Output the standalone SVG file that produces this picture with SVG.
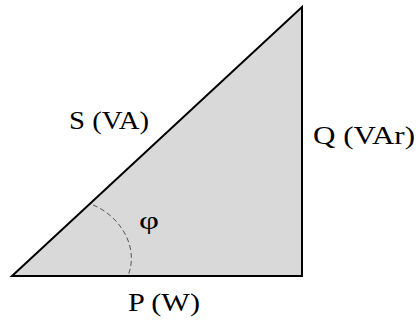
<svg xmlns="http://www.w3.org/2000/svg" width="419" height="320" viewBox="0 0 419 320">
<style>
.lbl{font-family:"Liberation Serif","Times New Roman",serif;font-size:25px;fill:#000}
</style>
<rect width="419" height="320" fill="#fff"/>
<g id="triangle">
<polygon points="12,276 302,7 302,276" fill="#d9d9d9" stroke="#000" stroke-width="2" stroke-linejoin="miter"/>
</g>
<g id="connectors">
<path d="M93,205 C118,215 140,245 128,276" fill="none" stroke="#555" stroke-width="1" stroke-dasharray="5,3"/>
</g>
<g id="labels">
<text class="lbl" x="69" y="129" textLength="80" lengthAdjust="spacingAndGlyphs">S (VA)</text>
<text class="lbl" x="313" y="144" textLength="102" lengthAdjust="spacingAndGlyphs">Q (VAr)</text>
<text class="lbl" x="128" y="311" textLength="72" lengthAdjust="spacingAndGlyphs">P (W)</text>
<text class="lbl" x="139" y="229" font-size="27" textLength="20" lengthAdjust="spacingAndGlyphs">φ</text>
</g>
</svg>
